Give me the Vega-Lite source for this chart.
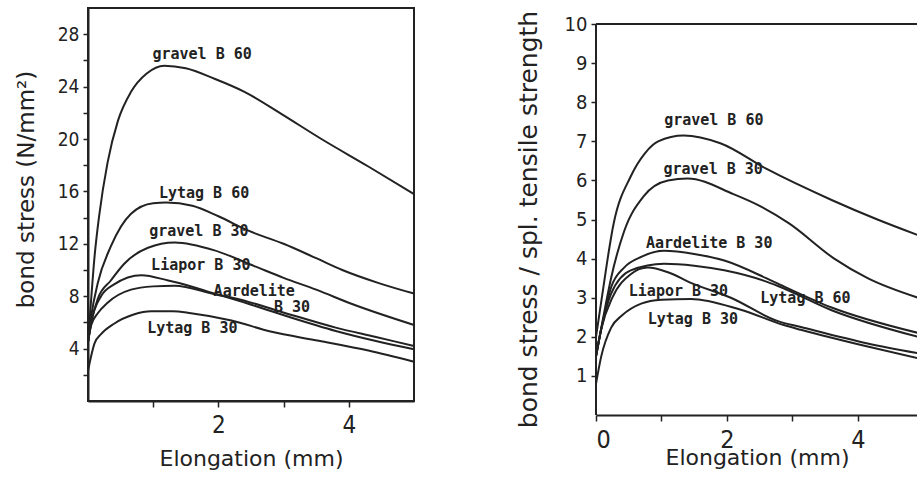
{
  "$schema": "https://vega.github.io/schema/vega-lite/v6.json",
  "background": "white",
  "padding": {"left": 14, "top": 7, "right": 0, "bottom": 0},
  "spacing": 96,
  "config": {
    "font": "DejaVu Sans Condensed",
    "axis": {
      "grid": false,
      "domainColor": "#222",
      "domainWidth": 2,
      "tickColor": "#222",
      "tickWidth": 1.5,
      "labelColor": "#222",
      "titleColor": "#222",
      "labelFont": "DejaVu Sans Condensed",
      "titleFont": "DejaVu Sans",
      "titleFontWeight": "normal",
      "labelOverlap": false,
      "tickCount": 50,
      "format": "d"
    },
    "text": {"font": "DejaVu Sans Mono"}
  },
  "datasets": {
    "curves": [
      {"panel": "L", "series": "gravel B 60", "x": 0, "y": 4.5},
      {"panel": "L", "series": "gravel B 60", "x": 0.04, "y": 7.2},
      {"panel": "L", "series": "gravel B 60", "x": 0.1, "y": 11.0},
      {"panel": "L", "series": "gravel B 60", "x": 0.17, "y": 14.1},
      {"panel": "L", "series": "gravel B 60", "x": 0.3, "y": 18.2},
      {"panel": "L", "series": "gravel B 60", "x": 0.46, "y": 21.4},
      {"panel": "L", "series": "gravel B 60", "x": 0.66, "y": 23.6},
      {"panel": "L", "series": "gravel B 60", "x": 0.9, "y": 25.0},
      {"panel": "L", "series": "gravel B 60", "x": 1.17, "y": 25.6},
      {"panel": "L", "series": "gravel B 60", "x": 1.5, "y": 25.4},
      {"panel": "L", "series": "gravel B 60", "x": 1.94, "y": 24.6},
      {"panel": "L", "series": "gravel B 60", "x": 2.4, "y": 23.6},
      {"panel": "L", "series": "gravel B 60", "x": 2.97, "y": 21.9},
      {"panel": "L", "series": "gravel B 60", "x": 3.58, "y": 20.0},
      {"panel": "L", "series": "gravel B 60", "x": 4.3, "y": 17.9},
      {"panel": "L", "series": "gravel B 60", "x": 5.0, "y": 15.8},

      {"panel": "L", "series": "Lytag B 60", "x": 0, "y": 4.5},
      {"panel": "L", "series": "Lytag B 60", "x": 0.05, "y": 6.5},
      {"panel": "L", "series": "Lytag B 60", "x": 0.15, "y": 9.0},
      {"panel": "L", "series": "Lytag B 60", "x": 0.35, "y": 11.8},
      {"panel": "L", "series": "Lytag B 60", "x": 0.66, "y": 14.3},
      {"panel": "L", "series": "Lytag B 60", "x": 1.0, "y": 15.1},
      {"panel": "L", "series": "Lytag B 60", "x": 1.2, "y": 15.15},
      {"panel": "L", "series": "Lytag B 60", "x": 1.6, "y": 14.9},
      {"panel": "L", "series": "Lytag B 60", "x": 2.0, "y": 14.1},
      {"panel": "L", "series": "Lytag B 60", "x": 2.46, "y": 13.0},
      {"panel": "L", "series": "Lytag B 60", "x": 3.0, "y": 12.0},
      {"panel": "L", "series": "Lytag B 60", "x": 3.5, "y": 10.9},
      {"panel": "L", "series": "Lytag B 60", "x": 3.9, "y": 10.0},
      {"panel": "L", "series": "Lytag B 60", "x": 4.46, "y": 9.0},
      {"panel": "L", "series": "Lytag B 60", "x": 5.0, "y": 8.2},

      {"panel": "L", "series": "gravel B 30", "x": 0, "y": 4.5},
      {"panel": "L", "series": "gravel B 30", "x": 0.05, "y": 6.0},
      {"panel": "L", "series": "gravel B 30", "x": 0.15, "y": 7.8},
      {"panel": "L", "series": "gravel B 30", "x": 0.35, "y": 9.2},
      {"panel": "L", "series": "gravel B 30", "x": 0.56, "y": 10.5},
      {"panel": "L", "series": "gravel B 30", "x": 0.92, "y": 11.7},
      {"panel": "L", "series": "gravel B 30", "x": 1.33, "y": 12.1},
      {"panel": "L", "series": "gravel B 30", "x": 1.94, "y": 11.5},
      {"panel": "L", "series": "gravel B 30", "x": 2.55, "y": 10.3},
      {"panel": "L", "series": "gravel B 30", "x": 3.0, "y": 9.4},
      {"panel": "L", "series": "gravel B 30", "x": 3.5, "y": 8.5},
      {"panel": "L", "series": "gravel B 30", "x": 4.05, "y": 7.4},
      {"panel": "L", "series": "gravel B 30", "x": 5.0, "y": 5.8},

      {"panel": "L", "series": "Liapor B 30", "x": 0, "y": 4.5},
      {"panel": "L", "series": "Liapor B 30", "x": 0.05, "y": 6.0},
      {"panel": "L", "series": "Liapor B 30", "x": 0.2, "y": 8.0},
      {"panel": "L", "series": "Liapor B 30", "x": 0.4, "y": 8.9},
      {"panel": "L", "series": "Liapor B 30", "x": 0.82, "y": 9.6},
      {"panel": "L", "series": "Liapor B 30", "x": 1.23, "y": 9.2},
      {"panel": "L", "series": "Liapor B 30", "x": 1.48, "y": 8.9},
      {"panel": "L", "series": "Liapor B 30", "x": 1.94, "y": 8.2},
      {"panel": "L", "series": "Liapor B 30", "x": 2.25, "y": 7.75},
      {"panel": "L", "series": "Liapor B 30", "x": 2.97, "y": 6.6},
      {"panel": "L", "series": "Liapor B 30", "x": 3.8, "y": 5.35},
      {"panel": "L", "series": "Liapor B 30", "x": 4.4, "y": 4.6},
      {"panel": "L", "series": "Liapor B 30", "x": 5.0, "y": 3.95},

      {"panel": "L", "series": "Aardelite B 30", "x": 0, "y": 4.5},
      {"panel": "L", "series": "Aardelite B 30", "x": 0.05, "y": 5.8},
      {"panel": "L", "series": "Aardelite B 30", "x": 0.15, "y": 6.7},
      {"panel": "L", "series": "Aardelite B 30", "x": 0.3, "y": 7.5},
      {"panel": "L", "series": "Aardelite B 30", "x": 0.66, "y": 8.5},
      {"panel": "L", "series": "Aardelite B 30", "x": 1.0, "y": 8.75},
      {"panel": "L", "series": "Aardelite B 30", "x": 1.33, "y": 8.8},
      {"panel": "L", "series": "Aardelite B 30", "x": 1.94, "y": 8.15},
      {"panel": "L", "series": "Aardelite B 30", "x": 2.25, "y": 7.85},
      {"panel": "L", "series": "Aardelite B 30", "x": 2.97, "y": 6.8},
      {"panel": "L", "series": "Aardelite B 30", "x": 3.8, "y": 5.6},
      {"panel": "L", "series": "Aardelite B 30", "x": 4.4, "y": 4.9},
      {"panel": "L", "series": "Aardelite B 30", "x": 5.0, "y": 4.2},

      {"panel": "L", "series": "Lytag B 30", "x": 0, "y": 2.3},
      {"panel": "L", "series": "Lytag B 30", "x": 0.1, "y": 4.4},
      {"panel": "L", "series": "Lytag B 30", "x": 0.2, "y": 5.1},
      {"panel": "L", "series": "Lytag B 30", "x": 0.4, "y": 5.9},
      {"panel": "L", "series": "Lytag B 30", "x": 0.7, "y": 6.6},
      {"panel": "L", "series": "Lytag B 30", "x": 0.97, "y": 6.85},
      {"panel": "L", "series": "Lytag B 30", "x": 1.3, "y": 6.85},
      {"panel": "L", "series": "Lytag B 30", "x": 1.58, "y": 6.7},
      {"panel": "L", "series": "Lytag B 30", "x": 2.2, "y": 6.15},
      {"panel": "L", "series": "Lytag B 30", "x": 2.8, "y": 5.3},
      {"panel": "L", "series": "Lytag B 30", "x": 3.54, "y": 4.6},
      {"panel": "L", "series": "Lytag B 30", "x": 4.3, "y": 3.85},
      {"panel": "L", "series": "Lytag B 30", "x": 5.0, "y": 3.0},

      {"panel": "R", "series": "gravel B 60", "x": 0, "y": 2.0},
      {"panel": "R", "series": "gravel B 60", "x": 0.08, "y": 2.9},
      {"panel": "R", "series": "gravel B 60", "x": 0.27, "y": 4.9},
      {"panel": "R", "series": "gravel B 60", "x": 0.53, "y": 6.1},
      {"panel": "R", "series": "gravel B 60", "x": 0.75, "y": 6.7},
      {"panel": "R", "series": "gravel B 60", "x": 0.95, "y": 7.0},
      {"panel": "R", "series": "gravel B 60", "x": 1.34, "y": 7.15},
      {"panel": "R", "series": "gravel B 60", "x": 1.9, "y": 6.95},
      {"panel": "R", "series": "gravel B 60", "x": 2.6, "y": 6.3},
      {"panel": "R", "series": "gravel B 60", "x": 3.6, "y": 5.5},
      {"panel": "R", "series": "gravel B 60", "x": 4.3, "y": 5.0},
      {"panel": "R", "series": "gravel B 60", "x": 4.92, "y": 4.6},

      {"panel": "R", "series": "gravel B 30", "x": 0, "y": 1.5},
      {"panel": "R", "series": "gravel B 30", "x": 0.1, "y": 2.4},
      {"panel": "R", "series": "gravel B 30", "x": 0.23, "y": 3.5},
      {"panel": "R", "series": "gravel B 30", "x": 0.43, "y": 4.7},
      {"panel": "R", "series": "gravel B 30", "x": 0.73, "y": 5.6},
      {"panel": "R", "series": "gravel B 30", "x": 1.1, "y": 6.0},
      {"panel": "R", "series": "gravel B 30", "x": 1.4, "y": 6.05},
      {"panel": "R", "series": "gravel B 30", "x": 2.1, "y": 5.65},
      {"panel": "R", "series": "gravel B 30", "x": 2.5, "y": 5.35},
      {"panel": "R", "series": "gravel B 30", "x": 2.95, "y": 4.9},
      {"panel": "R", "series": "gravel B 30", "x": 3.64, "y": 4.0},
      {"panel": "R", "series": "gravel B 30", "x": 4.15, "y": 3.5},
      {"panel": "R", "series": "gravel B 30", "x": 4.92, "y": 3.0},

      {"panel": "R", "series": "Aardelite B 30", "x": 0, "y": 1.5},
      {"panel": "R", "series": "Aardelite B 30", "x": 0.08, "y": 2.2},
      {"panel": "R", "series": "Aardelite B 30", "x": 0.23, "y": 3.26},
      {"panel": "R", "series": "Aardelite B 30", "x": 0.43, "y": 3.77},
      {"panel": "R", "series": "Aardelite B 30", "x": 0.7, "y": 4.05},
      {"panel": "R", "series": "Aardelite B 30", "x": 1.04, "y": 4.2},
      {"panel": "R", "series": "Aardelite B 30", "x": 1.5, "y": 4.12},
      {"panel": "R", "series": "Aardelite B 30", "x": 1.96, "y": 3.95},
      {"panel": "R", "series": "Aardelite B 30", "x": 2.6, "y": 3.5},
      {"panel": "R", "series": "Aardelite B 30", "x": 2.78, "y": 3.36},
      {"panel": "R", "series": "Aardelite B 30", "x": 3.6, "y": 2.75},
      {"panel": "R", "series": "Aardelite B 30", "x": 4.92, "y": 2.1},

      {"panel": "R", "series": "Lytag B 60", "x": 0, "y": 1.5},
      {"panel": "R", "series": "Lytag B 60", "x": 0.08, "y": 2.2},
      {"panel": "R", "series": "Lytag B 60", "x": 0.23, "y": 3.1},
      {"panel": "R", "series": "Lytag B 60", "x": 0.53, "y": 3.7},
      {"panel": "R", "series": "Lytag B 60", "x": 1.04, "y": 3.87},
      {"panel": "R", "series": "Lytag B 60", "x": 1.5, "y": 3.82},
      {"panel": "R", "series": "Lytag B 60", "x": 1.96, "y": 3.7},
      {"panel": "R", "series": "Lytag B 60", "x": 2.57, "y": 3.43},
      {"panel": "R", "series": "Lytag B 60", "x": 2.78, "y": 3.3},
      {"panel": "R", "series": "Lytag B 60", "x": 3.6, "y": 2.68},
      {"panel": "R", "series": "Lytag B 60", "x": 4.92, "y": 2.0},

      {"panel": "R", "series": "Liapor B 30", "x": 0, "y": 1.5},
      {"panel": "R", "series": "Liapor B 30", "x": 0.08, "y": 2.2},
      {"panel": "R", "series": "Liapor B 30", "x": 0.25, "y": 3.0},
      {"panel": "R", "series": "Liapor B 30", "x": 0.53, "y": 3.6},
      {"panel": "R", "series": "Liapor B 30", "x": 0.79, "y": 3.77},
      {"panel": "R", "series": "Liapor B 30", "x": 1.1, "y": 3.65},
      {"panel": "R", "series": "Liapor B 30", "x": 1.45, "y": 3.38},
      {"panel": "R", "series": "Liapor B 30", "x": 2.06, "y": 3.0},
      {"panel": "R", "series": "Liapor B 30", "x": 2.78, "y": 2.4},
      {"panel": "R", "series": "Liapor B 30", "x": 3.13, "y": 2.25},
      {"panel": "R", "series": "Liapor B 30", "x": 4.15, "y": 1.83},
      {"panel": "R", "series": "Liapor B 30", "x": 4.92, "y": 1.58},

      {"panel": "R", "series": "Lytag B 30", "x": 0, "y": 0.8},
      {"panel": "R", "series": "Lytag B 30", "x": 0.08, "y": 1.5},
      {"panel": "R", "series": "Lytag B 30", "x": 0.23, "y": 2.23},
      {"panel": "R", "series": "Lytag B 30", "x": 0.4, "y": 2.55},
      {"panel": "R", "series": "Lytag B 30", "x": 0.69, "y": 2.85},
      {"panel": "R", "series": "Lytag B 30", "x": 1.0, "y": 2.95},
      {"panel": "R", "series": "Lytag B 30", "x": 1.45, "y": 2.97},
      {"panel": "R", "series": "Lytag B 30", "x": 2.2, "y": 2.7},
      {"panel": "R", "series": "Lytag B 30", "x": 2.87, "y": 2.3},
      {"panel": "R", "series": "Lytag B 30", "x": 3.13, "y": 2.18},
      {"panel": "R", "series": "Lytag B 30", "x": 4.15, "y": 1.75},
      {"panel": "R", "series": "Lytag B 30", "x": 4.92, "y": 1.45}
    ],
    "labels": [
      {"panel": "L", "text": "gravel B 60", "x": 1.75, "y": 26.5},
      {"panel": "L", "text": "Lytag B 60", "x": 1.78, "y": 15.9},
      {"panel": "L", "text": "gravel B 30", "x": 1.7, "y": 13.0},
      {"panel": "L", "text": "Liapor B 30", "x": 1.73, "y": 10.4},
      {"panel": "L", "text": "Aardelite", "x": 2.55, "y": 8.4},
      {"panel": "L", "text": "B 30", "x": 3.13, "y": 7.15},
      {"panel": "L", "text": "Lytag B 30", "x": 1.6, "y": 5.6},
      {"panel": "R", "text": "gravel B 60", "x": 1.8, "y": 7.55},
      {"panel": "R", "text": "gravel B 30", "x": 1.79, "y": 6.3},
      {"panel": "R", "text": "Aardelite B 30", "x": 1.73, "y": 4.4},
      {"panel": "R", "text": "Liapor B 30", "x": 1.26, "y": 3.18},
      {"panel": "R", "text": "Lytag B 60", "x": 3.2, "y": 3.0},
      {"panel": "R", "text": "Lytag B 30", "x": 1.48, "y": 2.46}
    ],
    "frame": [
      {"x": 0, "x2": 0, "y": 0, "y2": 10},
      {"x": 0, "x2": 4.92, "y": 10, "y2": 10}
    ]
  },
  "hconcat": [
    {
      "width": 326,
      "height": 393,
      "view": {"stroke": "#222", "strokeWidth": 2},
      "layer": [
        {
          "data": {"name": "curves"},
          "transform": [{"filter": "datum.panel == 'L'"}],
          "mark": {"type": "line", "interpolate": "monotone", "color": "#222", "strokeWidth": 2},
          "encoding": {
            "x": {
              "field": "x", "type": "quantitative",
              "scale": {"domain": [0, 5], "nice": false, "zero": false},
              "axis": {
                "title": "Elongation (mm)",
                "values": [1, 2, 3, 4],
                "tickCount": 50,
                "labelExpr": "datum.value % 2 == 0 ? datum.label : ''",
                "tickSize": 6,
                "labelFontSize": 24,
                "labelPadding": 6,
                "titleFontSize": 22,
                "titleY": 57,
                "titleBaseline": "middle"
              }
            },
            "y": {
              "field": "y", "type": "quantitative",
              "scale": {"domain": [0, 30], "nice": false, "zero": false},
              "axis": {
                "title": "bond stress (N/mm²)",
                "values": [2, 4, 6, 8, 10, 12, 14, 16, 18, 20, 22, 24, 26, 28],
                "tickCount": 50,
                "labelExpr": "datum.value % 4 == 0 ? datum.label : ''",
                "tickSize": 5,
                "labelFontSize": 19,
                "labelPadding": 4,
                "titleFontSize": 23,
                "titleX": -62,
                "titleY": 181,
                "titleBaseline": "middle"
              }
            },
            "detail": {"field": "series"}
          }
        },
        {
          "data": {"name": "labels"},
          "transform": [{"filter": "datum.panel == 'L'"}],
          "mark": {"type": "text", "font": "DejaVu Sans Mono", "fontSize": 15, "fontWeight": "bold", "color": "#222", "align": "center", "baseline": "middle"},
          "encoding": {
            "x": {"field": "x", "type": "quantitative"},
            "y": {"field": "y", "type": "quantitative"},
            "text": {"field": "text"}
          }
        }
      ]
    },
    {
      "width": 322,
      "height": 407,
      "view": {"stroke": null},
      "layer": [
        {
          "data": {"name": "curves"},
          "transform": [{"filter": "datum.panel == 'R'"}],
          "mark": {"type": "line", "interpolate": "monotone", "color": "#222", "strokeWidth": 2},
          "encoding": {
            "x": {
              "field": "x", "type": "quantitative",
              "scale": {"domain": [0, 4.92], "nice": false, "zero": false},
              "axis": {
                "title": "Elongation (mm)",
                "values": [0, 1, 2, 3, 4],
                "tickCount": 50,
                "labelExpr": "datum.value % 2 == 0 ? datum.label : ''",
                "tickSize": 6,
                "labelFontSize": 25,
                "labelPadding": 6,
                "titleFontSize": 22,
                "titleY": 42,
                "titleBaseline": "middle"
              }
            },
            "y": {
              "field": "y", "type": "quantitative",
              "scale": {"domain": [0, 10.41], "nice": false, "zero": false},
              "axis": {
                "title": "bond stress / spl. tensile strength",
                "values": [1, 2, 3, 4, 5, 6, 7, 8, 9, 10],
                "tickCount": 50,
                "domain": false,
                "tickSize": 5,
                "labelFontSize": 20,
                "labelPadding": 4,
                "titleFontSize": 25,
                "titleX": -68,
                "titleY": 211,
                "titleBaseline": "middle"
              }
            },
            "detail": {"field": "series"}
          }
        },
        {
          "data": {"name": "frame"},
          "mark": {"type": "rule", "color": "#222", "strokeWidth": 2},
          "encoding": {
            "x": {"field": "x", "type": "quantitative"},
            "x2": {"field": "x2"},
            "y": {"field": "y", "type": "quantitative"},
            "y2": {"field": "y2"}
          }
        },
        {
          "data": {"name": "labels"},
          "transform": [{"filter": "datum.panel == 'R'"}],
          "mark": {"type": "text", "font": "DejaVu Sans Mono", "fontSize": 15, "fontWeight": "bold", "color": "#222", "align": "center", "baseline": "middle"},
          "encoding": {
            "x": {"field": "x", "type": "quantitative"},
            "y": {"field": "y", "type": "quantitative"},
            "text": {"field": "text"}
          }
        }
      ]
    }
  ]
}
